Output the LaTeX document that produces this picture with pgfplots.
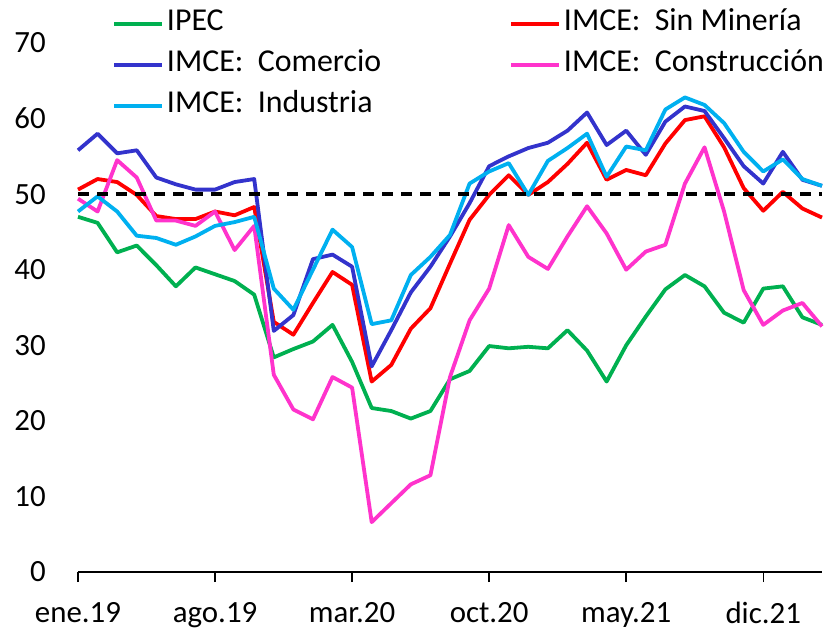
\documentclass[border=0pt]{standalone}
\usepackage{pgfplots}
\pgfplotsset{compat=1.18}
\usepackage{pgfplotstable}
\usepackage{fontspec}
\setmainfont{Carlito}
\definecolor{cgreen}{RGB}{0,176,80}
\definecolor{cred}{RGB}{255,0,0}
\definecolor{cblue}{RGB}{51,51,204}
\definecolor{cpink}{RGB}{255,51,204}
\definecolor{clight}{RGB}{0,176,240}
\pgfplotstableread{
m ipec sinmin comercio constr industria
0 47.0 50.6 55.8 49.4 47.7
1 46.2 52.0 58.0 47.7 49.7
2 42.3 51.6 55.4 54.5 47.7
3 43.2 49.9 55.8 52.2 44.5
4 40.6 47.1 52.2 46.5 44.2
5 37.8 46.7 51.3 46.5 43.3
6 40.3 46.7 50.6 45.8 44.4
7 39.4 47.7 50.6 47.7 45.8
8 38.5 47.2 51.6 42.6 46.3
9 36.7 48.3 52.0 45.8 47.0
10 28.4 33.1 31.9 26.1 37.5
11 29.5 31.4 34.0 21.5 34.7
12 30.5 35.6 41.4 20.2 40.0
13 32.7 39.7 42.0 25.8 45.3
14 27.8 38.0 40.4 24.4 43.0
15 21.7 25.2 27.2 6.6 32.8
16 21.3 27.4 32.0 9.1 33.3
17 20.3 32.2 37.0 11.6 39.3
18 21.3 34.9 40.4 12.8 41.7
19 25.5 40.8 44.4 25.8 44.6
20 26.6 46.6 48.8 33.3 51.4
21 29.9 49.9 53.7 37.5 53.0
22 29.6 52.5 55.0 45.9 54.1
23 29.8 49.9 56.1 41.7 49.9
24 29.6 51.6 56.8 40.1 54.4
25 32.0 54.0 58.4 44.4 56.1
26 29.3 56.8 60.8 48.4 58.0
27 25.2 51.9 56.5 44.8 52.3
28 30.0 53.2 58.4 40.0 56.3
29 33.8 52.5 55.2 42.4 55.8
30 37.4 56.7 59.6 43.3 61.2
31 39.3 59.8 61.6 51.4 62.8
32 37.8 60.3 61.0 56.2 61.8
33 34.3 56.2 57.4 47.7 59.4
34 33.0 50.8 53.7 37.3 55.6
35 37.5 47.8 51.4 32.7 53.0
36 37.8 50.3 55.6 34.6 54.6
37 33.7 48.1 51.9 35.6 52.0
38 32.7 46.9 51.1 32.5 51.1
}\datatable
\begin{document}
\begin{tikzpicture}
\begin{axis}[
  scale only axis,
  width=744bp, height=529bp,
  xmin=0, xmax=38, ymin=0, ymax=70,
  clip=false,
  axis x line*=bottom, axis y line*=left,
  axis line style={-},
  x axis line style={black, line width=1.8bp},
  y axis line style={draw=none},
  xtick={0,7,14,21,28,35},
  xticklabels={ene.19,ago.19,mar.20,oct.20,may.21,dic.21},
  ytick={0,10,...,70},
  ytick style={draw=none},
  xtick style={black, line width=1.5bp},
  tick align=outside,
  major tick length=10bp,
  font=\fontsize{31}{37}\selectfont,
  every tick label/.append style={font=\fontsize{31}{37}\selectfont, inner sep=0pt},
  /pgf/number format/assume math mode=true,
  yticklabel style={anchor=east, xshift=-22bp},
  xticklabel style={anchor=north, yshift=-20bp},
  legend columns=2,
  legend cell align=left,
  legend style={draw=none, fill=none, at={(0.0457,1.071)}, anchor=north west,
    inner sep=0pt, column sep=0pt, row sep=5bp,
    font=\fontsize{32}{38}\selectfont,
    nodes={inner sep=3bp, text height=22bp, text depth=8bp},
    /tikz/every even column/.append style={column sep=125bp}},
  legend image code/.code={\draw[#1] (0bp,0bp) -- (48bp,0bp);},
  every axis plot/.append style={line width=3.8bp, line join=round},
]
\addplot[cgreen] table[x=m, y=ipec] {\datatable};
\addlegendentry{IPEC}
\addplot[cred] table[x=m, y=sinmin] {\datatable};
\addlegendentry{IMCE:\ \ Sin Minería}
\addplot[cblue] table[x=m, y=comercio] {\datatable};
\addlegendentry{IMCE:\ \ Comercio}
\addplot[cpink] table[x=m, y=constr] {\datatable};
\addlegendentry{IMCE:\ \ Construcción}
\addplot[clight] table[x=m, y=industria] {\datatable};
\addlegendentry{IMCE:\ \ Industria}
\addplot[black, line width=3.8bp, dash pattern=on 11bp off 8bp, forget plot] coordinates {(0,50) (38,50)};
\path (rel axis cs:0,0) coordinate (O);
\end{axis}
\pgfresetboundingbox
\path[use as bounding box] ([shift={(-78bp,-58bp)}]O) rectangle ([shift={(752bp,572bp)}]O);
\end{tikzpicture}
\end{document}
